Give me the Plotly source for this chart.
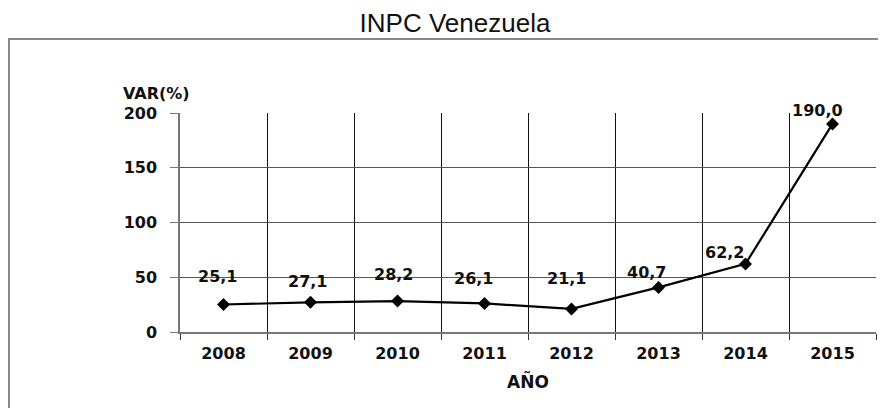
import plotly.graph_objects as go

years = ["2008", "2009", "2010", "2011", "2012", "2013", "2014", "2015"]
var_pct = [25.1, 27.1, 28.2, 26.1, 21.1, 40.7, 62.2, 190.0]
labels = [f"{v:.1f}".replace(".", ",") for v in var_pct]
y_ticks = [0, 50, 100, 150, 200]

# label offsets (px) relative to each point, as placed in the reference
label_dx = [-6, -3, -4, -11, -5, -12, -21, -15]
label_dy = [28, 21, 27, 25, 30, 15, 11, 13]

BOLD = "DejaVu Sans"
FS = 16
# page has an 8px body margin; layout below is in figure coords
L, T, PW, PH = 172, 105, 696, 219
W, H = 886, 408

fig = go.Figure()
fig.add_trace(go.Scatter(
    x=years, y=var_pct, mode="lines+markers",
    line=dict(color="#000", width=2.2),
    marker=dict(symbol="diamond", size=10, color="#000"),
    cliponaxis=False, showlegend=False, hoverinfo="x+y",
))

# category axis: annotations positioned by category index
annots = [dict(x=i, y=yv, xref="x", yref="y", text=t, showarrow=False,
               xanchor="center", yanchor="middle", xshift=dx, yshift=dy,
               font=dict(family=BOLD, size=FS, color="#111", weight="bold"))
          for i, (yv, t, dx, dy) in enumerate(zip(var_pct, labels, label_dx, label_dy))]
annots.append(dict(text="VAR(%)", xref="paper", yref="paper",
                   x=(148 - L) / PW, y=(T + PH - 85) / PH,
                   xanchor="center", yanchor="middle", showarrow=False,
                   font=dict(family=BOLD, size=FS, color="#111", weight="bold")))
annots.append(dict(text="AÑO", xref="paper", yref="paper",
                   x=0.5, y=(T + PH - 373) / PH,
                   xanchor="center", yanchor="middle", showarrow=False,
                   font=dict(family=BOLD, size=FS + 1, color="#111", weight="bold")))

fig.update_layout(
    width=W, height=H,
    margin=dict(l=L, r=W - L - PW, t=T, b=H - T - PH),
    paper_bgcolor="white", plot_bgcolor="white",
    title=dict(text="INPC Venezuela", x=447 / W, xanchor="center",
               y=1 - 15 / H, yanchor="middle", yref="container",
               font=dict(family="Liberation Sans", size=26, color="#111")),
    xaxis=dict(type="category", categoryorder="array", categoryarray=years,
               range=[-0.5, 7.5], tickson="boundaries",
               ticks="outside", ticklen=6, tickcolor="#333",
               showgrid=True, gridcolor="#111", gridwidth=1,
               showline=True, linecolor="#777", linewidth=1.5,
               ticklabelstandoff=6,
               tickfont=dict(family=BOLD, size=FS, color="#111", weight="bold")),
    yaxis=dict(range=[0, 200], tickvals=y_ticks, ticks="outside", ticklen=8,
               tickcolor="#777", showgrid=True, gridcolor="#555", gridwidth=1,
               zeroline=False, showline=True, linecolor="#777", linewidth=1.5,
               ticklabelstandoff=10,
               tickfont=dict(family=BOLD, size=FS, color="#111", weight="bold")),
    annotations=annots,
    shapes=[dict(type="rect", xref="paper", yref="paper",
                 x0=(1 - L) / PW, x1=1.2, y0=-0.6, y1=(T + PH - 31) / PH,
                 line=dict(color="#888", width=2), layer="below")],
)

fig.write_html("out.html")
